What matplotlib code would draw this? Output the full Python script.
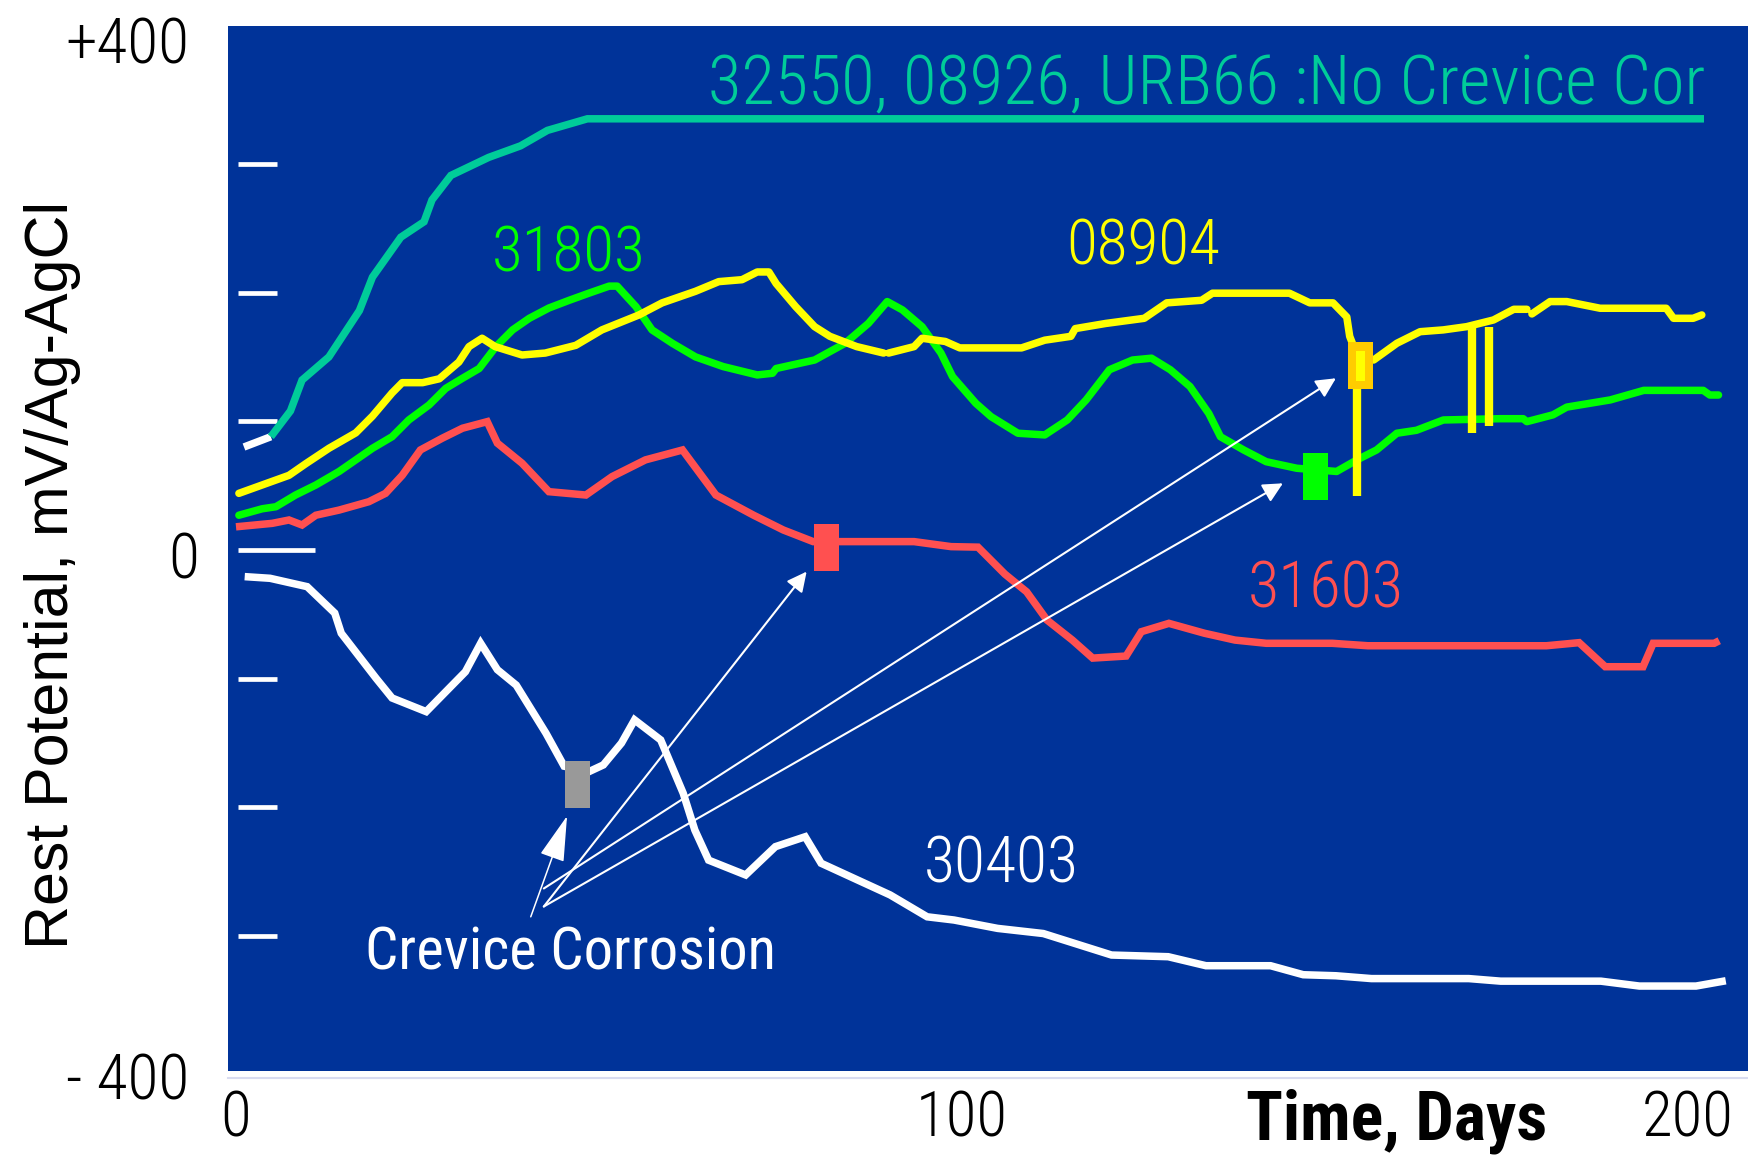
import numpy as np
import matplotlib
matplotlib.use("Agg")
import matplotlib.pyplot as plt
import matplotlib.font_manager as fm
from matplotlib.patches import Rectangle, FancyArrowPatch
from matplotlib.textpath import TextToPath

# ---------------- data (days, mV vs Ag/AgCl) ----------------
days_teal = [1.1, 4.8, 7.5, 9.1, 12.8, 17.0, 18.8, 22.7, 25.9, 27.0, 29.6, 34.8, 39.2, 42.9, 48.4, 202.2]
mv_teal   = [80, 88, 108, 132, 150, 186, 212, 243, 255, 272, 291, 305, 314, 326, 335, 335]

days_08904 = [0.4, 3.6, 7.3, 9.6, 12.8, 16.5, 18.8, 21.5, 22.9, 25.7, 28.0, 30.7, 32.1, 33.9, 35.7, 39.4,
              42.6, 46.8, 50.4, 55.5, 58.7, 63.3, 66.5, 69.7, 71.8, 73.4, 74.4, 77.1, 79.7, 81.8, 85.5,
              89.2, np.nan, 89.9, 93.4, 94.5, 97.7, 99.7, 108.2, 111.4, 115.0, 115.6, 119.8, 125.1, 128.2,
              133.0, 134.5, 145.1, 147.9, 151.1, 153.0, 153.4, 154.5, 156.7, 159.9, 163.1, 166.3, 169.5,
              173.2, 176.0, 177.8, np.nan, 178.5, 181.0, 183.3, 187.9, 197.0, 198.0, 200.7, 201.9]
mv_08904 = [44, 50.5, 58, 67, 79, 91, 104, 122, 130, 130, 133, 146, 158, 164.5, 158, 151.5,
            153, 159, 171, 182.6, 192, 201, 208.5, 210, 216, 216, 207, 189, 173.5, 166, 158,
            153, np.nan, 153, 158, 164.5, 162, 157, 157, 163, 166, 172, 176, 180, 192,
            194, 199.5, 199.5, 192, 192, 181, 166, 150, 147.6, 160.6, 169.6, 171, 173.5,
            178.7, 187, 187, np.nan, 183.4, 193, 193, 187.8, 187.8, 180, 180, 182.6]

days_31803 = [0.4, 3.6, 5.5, 8.2, 11.0, 14.2, 16.5, 18.8, 21.5, 23.8, 26.6, 28.9, 31.2, 33.5, 35.8, 38.1,
              40.4, 43.1, 45.9, 48.6, 51.4, 52.5, 55.1, 57.3, 60.1, 63.3, 67.1, 71.8, 73.9, 74.4, 79.7,
              83.9, 87.1, 89.7, 91.8, 94.5, 97.1, 98.7, 101.9, 104.0, 107.7, 111.4, 114.5, 117.1, 120.3,
              123.5, 126.1, 128.7, 131.4, 134.0, 135.6, 138.8, 141.9, 146.1, 151.6, 154.4, 157.1, 159.9,
              162.6, 166.3, 174.1, 177.3, 177.8, 181.4, 183.3, 189.3, 193.9, 202.1, 203.0, 204.2]
mv_31803 = [27, 32, 33.6, 42.7, 50.5, 61, 70, 79, 88, 101, 112.7, 125.6, 133.4, 141, 158, 171,
            180, 188, 194, 199.5, 205, 205, 189, 171, 160.6, 150, 142.5, 136, 137.3, 141, 147.6,
            160.6, 176, 193, 186.5, 173.5, 153, 134.7, 114, 103.6, 90.7, 89.4, 101, 116.6, 140,
            147.6, 149, 140, 127, 106, 88, 77.7, 68.6, 63.5, 61, 70, 77.7, 90.7,
            93, 101, 102, 102, 99.7, 105, 111, 116.6, 124, 124, 120.4, 120.4]

days_31603 = [0, 5, 7.3, 9.1, 11, 14.2, 18.3, 20.6, 22.9, 25.4, 28.4, 31.2, 34.6, 36, 39.4, 43.1, 48.2,
              51.8, 56.4, 61.5, 66.1, 71.3, 75.4, 79.5, 83.1, 91.5, 93.4, 98.5, 102.2, 105.9, 108.9,
              111.7, 115.2, 118, 122.6, 124.7, 128.5, 133.4, 137.6, 141.9, 151, 155.9, 180.5, 185,
              188.6, 193.8, 195.2, 203.6, 204.3]
mv_31603 = [18, 20.7, 23.3, 19.4, 27, 31, 37.5, 44, 58, 77.7, 86.8, 94.6, 99.7, 83, 67.4, 45.3, 42.7,
            57, 70, 77.7, 42.7, 27, 15.5, 6.5, 6.5, 6.5, 6.5, 2.6, 2.2, -18.7, -32.5,
            -54.4, -70, -84, -82.4, -63.5, -57, -64.7, -70, -72.5, -72.5, -74.4, -74.4, -72,
            -90.7, -90.7, -72.5, -72.5, -70.5]

days_30403 = [1.2, 4.7, 9.8, 13.6, 14.5, 19.3, 21.5, 26.2, 31.6, 33.7, 36, 38.6, 42.7, 45.2, 48.7, 50.6,
              53.1, 54.9, 58.5, 61.6, 63.2, 65.1, 70.2, 74.3, 78.4, 80.6, 90.1, 95.2, 98.9, 104.9, 111.2,
              120.6, 128.4, 133.6, 142.5, 147, 151.5, 156.4, 169.8, 174.2, 188, 193.3, 201.1, 205.2]
mv_30403 = [-20.7, -22, -28.5, -49, -64.7, -99.7, -115, -125.6, -94.6, -72.5, -93, -105, -142.4, -168,
            -172, -167, -150, -132, -147.6, -189, -217.6, -241, -252.5, -230.5, -222.8, -243.4, -268,
            -285, -287.5, -294, -298, -314.7, -316, -323, -323, -330, -330.8, -333, -333, -335, -335,
            -338.8, -338.8, -334.7]

# transient potential drops of 08904
drop_days = [154.4, 170.3, 172.6]
drop_top = [150, 173.5, 173.5]
drop_bottom = [42, 91, 96]

# crevice-corrosion onset markers (day, mV)
crev_names = ["30403", "31603", "31803", "08904"]
crev_days = [47.0, 81.3, 148.7, 154.9]
crev_mv = [-182, 2.2, 57, 143]

# "Crevice Corrosion" arrows: tail (day, mV) -> head (day, mV)
arrow_tail_days = [40.6, 42.4, 42.4, 42.4]
arrow_tail_mv = [-285, -277, -263, -277]
arrow_head_days = [45.6, 78.6, 151.5, 144.2]
arrow_head_mv = [-206.7, -16.8, 133.4, 51.8]

x_ticks = [0, 100, 200]
x_ticklabels = ["0", "100", "200"]
y_inner_ticks = [-300, -200, -100, 100, 200, 300]

# ---------------- styling ----------------
BLUE = "#003399"
TEAL = "#00CC99"
YELLOW = "#FFFF00"
GREEN = "#00FF00"
RED = "#FF5050"
GRAY = "#999999"
ORANGE = "#FFCC00"

avail = {f.name for f in fm.fontManager.ttflist}
NARROW = None
for cand in ["Liberation Sans Narrow", "Arial Narrow", "Roboto Condensed", "Open Sans Condensed",
             "Noto Sans Condensed"]:
    if cand in avail:
        NARROW = cand
        break
if NARROW is None:
    NARROW = "Liberation Sans"

LIGHT = "normal"
try:
    _lw = [f for f in fm.fontManager.ttflist if f.name == NARROW and str(f.weight) in ("300", "light")]
    if _lw:
        LIGHT = "light"
except Exception:
    pass

_ttp = TextToPath()


def fit_size(s, width_px, cap_px, family, weight="normal"):
    fp = fm.FontProperties(family=family, weight=weight, size=100)
    w, h, d = _ttp.get_text_width_height_descent(s, fp, ismath=False)
    size_w = 72.0 * width_px / w
    size_h = cap_px * 72.0 / 100.0 / 0.716
    return min(size_w, size_h)


def nfont(s, width_px, cap_px, weight=None):
    wt = LIGHT if weight is None else weight
    return dict(family=NARROW, weight=wt, size=fit_size(s, width_px, cap_px, NARROW, wt))


W, H = 1749, 1157
fig = plt.figure(figsize=(W / 100, H / 100), dpi=100)
fig.patch.set_facecolor("white")
ax = fig.add_axes([228 / W, (H - 1071) / H, (W - 228) / W, (1071 - 26) / H])
ax.set_facecolor(BLUE)
ax.set_xlim(-1.1, 208.4)
ax.set_ylim(-404.8, 407.1)
for sp in ax.spines.values():
    sp.set_visible(False)

# inner white tick marks
ax.hlines(y_inner_ticks, 0.3, 5.6, colors="white", lw=3.4)
ax.hlines([0], 0.3, 10.9, colors="white", lw=3.4)
ax.axhline(-410, color="#d9dcf0", lw=1.5, clip_on=False)

# curves
LW = 5.4
ax.plot(days_teal[:2], mv_teal[:2], color="white", lw=LW, solid_capstyle="butt")
ax.plot(days_teal[1:], mv_teal[1:], color=TEAL, lw=LW, solid_capstyle="butt", solid_joinstyle="miter")
ax.plot(days_30403, mv_30403, color="white", lw=LW, solid_capstyle="butt", solid_joinstyle="miter")
ax.plot(days_31603, mv_31603, color=RED, lw=LW, solid_capstyle="butt", solid_joinstyle="miter")
ax.plot(days_31803, mv_31803, color=GREEN, lw=LW, solid_capstyle="round", solid_joinstyle="round")
ax.plot(days_08904, mv_08904, color=YELLOW, lw=LW, solid_capstyle="round", solid_joinstyle="round")
ax.vlines(drop_days, drop_bottom, drop_top, colors=YELLOW, lw=6)

# crevice markers
mk_w, mk_h = 3.45, 36.5
mk_colors = [GRAY, RED, GREEN, ORANGE]
for d, v, c in zip(crev_days, crev_mv, mk_colors):
    ax.add_patch(Rectangle((d - mk_w / 2, v - mk_h / 2), mk_w, mk_h, facecolor=c, edgecolor="none", zorder=5))
ax.add_patch(Rectangle((crev_days[3] - 0.62, crev_mv[3] - 11.6), 1.24, 23.3, facecolor=YELLOW,
                       edgecolor="none", zorder=6))

# arrows
for i, (tx, ty, hx, hy) in enumerate(zip(arrow_tail_days, arrow_tail_mv, arrow_head_days, arrow_head_mv)):
    if i == 0:
        style = "-|>,head_length=1.45,head_width=0.4"
        lw = 1.1
    else:
        style = "-|>,head_length=0.6,head_width=0.3"
        lw = 1.5
    ax.add_patch(FancyArrowPatch((tx, ty), (hx, hy), arrowstyle=style, mutation_scale=20,
                                 color="white", lw=lw, shrinkA=0, shrinkB=0, zorder=7))

# curve labels
ax.text(45.9, 216, "31803", color=GREEN, ha="center", va="baseline", **nfont("31803", 154, 49))
ax.text(124.9, 222, "08904", color=YELLOW, ha="center", va="baseline", **nfont("08904", 154, 49))
ax.text(150.1, -45, "31603", color=RED, ha="center", va="baseline", **nfont("31603", 156, 50))
ax.text(105.4, -258.7, "30403", color="white", ha="center", va="baseline", **nfont("30403", 155, 50))
s_teal = "32550, 08926, URB66 :No Crevice Cor"
ax.text(133.7, 346.5, s_teal, color=TEAL, ha="center", va="baseline", **nfont(s_teal, 999, 51))
ax.text(46.1, -326, "Crevice Corrosion", color="white", ha="center", va="baseline",
        zorder=8, **nfont("Crevice Corrosion", 413, 42, weight="normal"))

# axis tick labels
tkf = nfont("100", 92, 48)
ax.set_xticks(x_ticks)
ax.set_xticklabels(x_ticklabels, fontfamily=tkf["family"], fontsize=tkf["size"], fontweight=tkf["weight"])
ax.tick_params(axis="x", length=0, pad=13, colors="black")
ax.set_yticks([])
yf = nfont("+400", 124, 48)
fig.text(189 / W, (H - 63) / H, "+400", ha="right", va="baseline", **yf)
fig.text(199 / W, (H - 578) / H, "0", ha="right", va="baseline", **yf)
fig.text(189 / W, (H - 1100) / H, "- 400", ha="right", va="baseline", **yf)

fig.text(1397 / W, (H - 1139) / H, "Time, Days", ha="center", va="baseline",
         **nfont("Time, Days", 301, 49, weight="bold"))

ysz = fit_size("Rest Potential, mV/Ag-AgCl", 748, 47, "Liberation Sans")
fig.text(68 / W, (H - 574.5) / H, "Rest Potential, mV/Ag-AgCl", rotation=90, rotation_mode="anchor",
         ha="center", va="baseline", family="Liberation Sans", fontsize=ysz)

fig.savefig("out.png", dpi=100, facecolor="white")
